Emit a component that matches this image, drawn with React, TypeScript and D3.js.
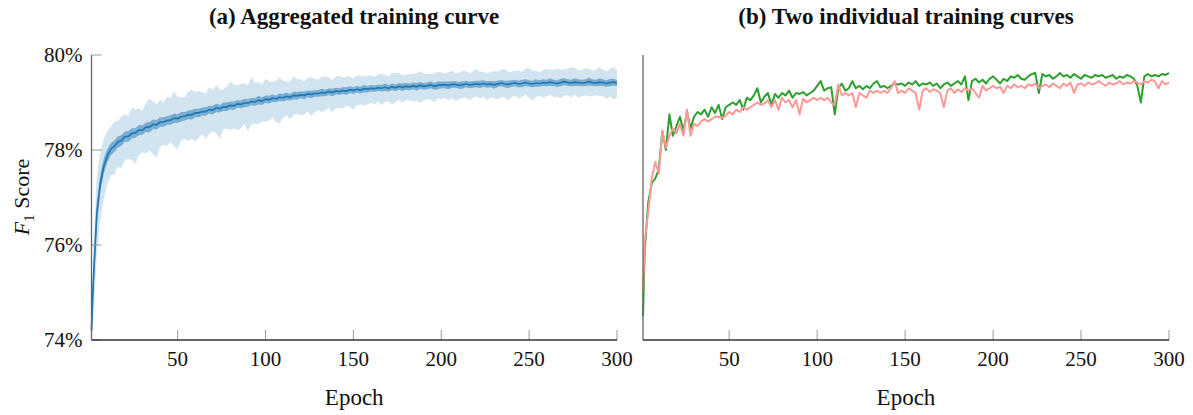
import React from "react";
import * as d3 from "d3";

// x positions: epoch 1, then every second epoch up to 300
const EPOCHS: number[] = [1, ...d3.range(2, 301, 2)];

// (a) aggregated curve: mean F1 (%)
const MEAN = [74.20,
  75.20, 76.65, 77.30, 77.66, 77.88, 78.02, 78.08, 78.17, 78.20, 78.28,
  78.29, 78.35, 78.36, 78.42, 78.42, 78.48, 78.48, 78.54, 78.53, 78.59,
  78.59, 78.62, 78.63, 78.67, 78.66, 78.70, 78.71, 78.74, 78.74, 78.78,
  78.78, 78.81, 78.81, 78.85, 78.84, 78.89, 78.87, 78.91, 78.91, 78.94,
  78.93, 78.97, 78.96, 78.99, 78.99, 79.02, 79.01, 79.05, 79.03, 79.07,
  79.06, 79.09, 79.08, 79.11, 79.10, 79.13, 79.11, 79.15, 79.14, 79.16,
  79.15, 79.18, 79.17, 79.19, 79.19, 79.21, 79.20, 79.23, 79.21, 79.24,
  79.23, 79.25, 79.24, 79.27, 79.25, 79.28, 79.26, 79.29, 79.28, 79.30,
  79.29, 79.31, 79.30, 79.32, 79.30, 79.33, 79.31, 79.34, 79.32, 79.34,
  79.33, 79.35, 79.33, 79.36, 79.34, 79.35, 79.37, 79.34, 79.36, 79.37,
  79.37, 79.36, 79.38, 79.38, 79.36, 79.37, 79.39, 79.37, 79.38, 79.39,
  79.38, 79.40, 79.38, 79.39, 79.37, 79.39, 79.41, 79.39, 79.38, 79.40,
  79.41, 79.39, 79.40, 79.42, 79.40, 79.39, 79.41, 79.40, 79.42, 79.41,
  79.43, 79.41, 79.40, 79.42, 79.44, 79.42, 79.41, 79.43, 79.42, 79.41,
  79.42, 79.44, 79.42, 79.41, 79.43, 79.42, 79.40, 79.42, 79.43, 79.41];

// half-width of the inner (dark) band, percentage points
const DARK_SPREAD = [0.15,
  0.25, 0.22, 0.18, 0.16, 0.14, 0.13, 0.12, 0.12, 0.11, 0.11,
  0.11, 0.11, 0.10, 0.11, 0.10, 0.10, 0.11, 0.10, 0.10, 0.10,
  0.10, 0.09, 0.10, 0.10, 0.09, 0.10, 0.09, 0.09, 0.10, 0.09,
  0.09, 0.09, 0.09, 0.08, 0.09, 0.09, 0.08, 0.09, 0.09, 0.08,
  0.09, 0.08, 0.08, 0.09, 0.08, 0.08, 0.08, 0.09, 0.08, 0.08,
  0.08, 0.08, 0.07, 0.08, 0.08, 0.08, 0.07, 0.08, 0.08, 0.07,
  0.08, 0.07, 0.08, 0.07, 0.07, 0.08, 0.07, 0.07, 0.08, 0.07,
  0.07, 0.07, 0.08, 0.07, 0.07, 0.07, 0.07, 0.08, 0.07, 0.07,
  0.07, 0.07, 0.07, 0.08, 0.07, 0.07, 0.07, 0.07, 0.08, 0.07,
  0.07, 0.07, 0.08, 0.07, 0.07, 0.07, 0.07, 0.07, 0.08, 0.07,
  0.07, 0.08, 0.07, 0.07, 0.07, 0.08, 0.07, 0.07, 0.07, 0.07,
  0.08, 0.07, 0.07, 0.07, 0.08, 0.07, 0.07, 0.07, 0.08, 0.07,
  0.07, 0.07, 0.08, 0.07, 0.07, 0.07, 0.08, 0.07, 0.07, 0.07,
  0.08, 0.07, 0.07, 0.08, 0.07, 0.07, 0.07, 0.08, 0.07, 0.07,
  0.07, 0.08, 0.07, 0.07, 0.08, 0.07, 0.07, 0.08, 0.07, 0.07];

// outer (light) band: distance above the mean
const LIGHT_UP = [0.25,
  0.70, 0.78, 0.66, 0.58, 0.52, 0.47, 0.52, 0.44, 0.50, 0.47,
  0.43, 0.55, 0.50, 0.46, 0.41, 0.52, 0.60, 0.48, 0.44, 0.47,
  0.42, 0.50, 0.47, 0.58, 0.45, 0.41, 0.40, 0.49, 0.53, 0.44,
  0.46, 0.41, 0.38, 0.47, 0.43, 0.48, 0.40, 0.37, 0.42, 0.50,
  0.45, 0.39, 0.44, 0.41, 0.37, 0.52, 0.40, 0.38, 0.35, 0.43,
  0.39, 0.34, 0.38, 0.42, 0.36, 0.31, 0.33, 0.40, 0.35, 0.33,
  0.30, 0.34, 0.36, 0.31, 0.29, 0.33, 0.35, 0.30, 0.27, 0.31,
  0.33, 0.28, 0.30, 0.29, 0.25, 0.28, 0.31, 0.26, 0.28, 0.27,
  0.25, 0.28, 0.30, 0.27, 0.24, 0.29, 0.31, 0.28, 0.25, 0.24,
  0.27, 0.26, 0.28, 0.30, 0.27, 0.25, 0.23, 0.27, 0.29, 0.26,
  0.25, 0.27, 0.29, 0.24, 0.26, 0.30, 0.27, 0.24, 0.28, 0.31,
  0.27, 0.25, 0.23, 0.26, 0.29, 0.26, 0.28, 0.32, 0.27, 0.25,
  0.26, 0.28, 0.25, 0.29, 0.33, 0.28, 0.26, 0.24, 0.27, 0.29,
  0.26, 0.28, 0.31, 0.27, 0.25, 0.29, 0.33, 0.30, 0.26, 0.28,
  0.30, 0.27, 0.25, 0.28, 0.31, 0.27, 0.26, 0.29, 0.32, 0.28];

// outer (light) band: distance below the mean
const LIGHT_DOWN = [0.20,
  0.80, 0.85, 0.78, 0.68, 0.60, 0.55, 0.60, 0.52, 0.58, 0.50,
  0.48, 0.56, 0.65, 0.52, 0.47, 0.55, 0.50, 0.62, 0.70, 0.52,
  0.48, 0.53, 0.46, 0.58, 0.66, 0.50, 0.47, 0.55, 0.51, 0.60,
  0.52, 0.47, 0.58, 0.50, 0.45, 0.53, 0.64, 0.48, 0.46, 0.52,
  0.47, 0.55, 0.50, 0.44, 0.60, 0.48, 0.45, 0.51, 0.43, 0.47,
  0.44, 0.40, 0.50, 0.55, 0.42, 0.40, 0.46, 0.41, 0.38, 0.44,
  0.40, 0.37, 0.45, 0.39, 0.35, 0.41, 0.37, 0.34, 0.42, 0.36,
  0.34, 0.38, 0.31, 0.36, 0.40, 0.33, 0.30, 0.35, 0.32, 0.30,
  0.33, 0.29, 0.35, 0.31, 0.28, 0.37, 0.30, 0.28, 0.32, 0.29,
  0.28, 0.33, 0.30, 0.36, 0.29, 0.27, 0.31, 0.34, 0.28, 0.30,
  0.27, 0.32, 0.29, 0.35, 0.30, 0.27, 0.29, 0.33, 0.28, 0.26,
  0.30, 0.28, 0.34, 0.29, 0.27, 0.32, 0.30, 0.28, 0.35, 0.29,
  0.27, 0.31, 0.28, 0.26, 0.30, 0.36, 0.29, 0.27, 0.31, 0.28,
  0.26, 0.30, 0.28, 0.33, 0.29, 0.27, 0.30, 0.26, 0.32, 0.28,
  0.27, 0.31, 0.29, 0.26, 0.30, 0.28, 0.33, 0.29, 0.36, 0.30];

// (b) two individual runs
const RUN_GREEN = [74.50,
  75.90, 76.90, 77.30, 77.40, 77.60, 78.40, 78.00, 78.75, 78.30, 78.50,
  78.70, 78.40, 78.80, 78.45, 78.70, 78.80, 78.75, 78.85, 78.70, 78.90,
  78.78, 78.95, 78.65, 78.90, 78.95, 79.00, 78.95, 79.05, 78.85, 79.10,
  79.05, 79.15, 79.30, 79.00, 79.12, 79.20, 78.95, 79.18, 79.10, 79.20,
  79.15, 79.25, 79.10, 79.20, 79.18, 79.22, 79.15, 79.20, 79.25, 79.35,
  79.45, 79.25, 79.30, 79.32, 78.75, 79.30, 79.40, 79.25, 79.30, 79.45,
  79.30, 79.35, 79.28, 79.35, 79.30, 79.40, 79.45, 79.32, 79.35, 79.30,
  79.35, 79.40, 79.38, 79.40, 79.35, 79.42, 79.38, 79.45, 79.35, 79.40,
  79.38, 79.42, 79.35, 79.40, 79.30, 79.38, 79.42, 79.35, 79.40, 79.45,
  79.38, 79.55, 79.05, 79.45, 79.50, 79.42, 79.48, 79.40, 79.50, 79.55,
  79.48, 79.40, 79.50, 79.45, 79.55, 79.52, 79.58, 79.50, 79.48, 79.55,
  79.60, 79.62, 79.20, 79.60, 79.55, 79.58, 79.50, 79.55, 79.62, 79.55,
  79.58, 79.52, 79.60, 79.55, 79.50, 79.58, 79.55, 79.52, 79.58, 79.55,
  79.58, 79.52, 79.55, 79.58, 79.50, 79.55, 79.52, 79.58, 79.55, 79.50,
  79.35, 79.00, 79.55, 79.60, 79.55, 79.58, 79.55, 79.60, 79.58, 79.62];

const RUN_PINK = [75.00,
  76.10, 76.70, 77.40, 77.75, 77.50, 78.40, 78.05, 78.30, 78.45, 78.35,
  78.55, 78.30, 78.85, 78.30, 78.55, 78.50, 78.60, 78.65, 78.60, 78.65,
  78.70, 78.70, 78.68, 78.72, 78.80, 78.75, 78.85, 78.80, 78.90, 78.85,
  78.90, 78.95, 79.00, 78.95, 78.98, 79.05, 78.90, 79.05, 78.85, 79.10,
  79.00, 79.05, 78.90, 79.05, 78.75, 79.08, 79.00, 79.05, 79.10, 79.05,
  79.10, 79.05, 79.10, 79.00, 78.95, 79.38, 79.15, 79.20, 79.15, 79.20,
  78.90, 79.20, 79.15, 79.10, 79.25, 79.20, 79.25, 79.20, 79.25, 79.20,
  79.30, 79.45, 79.20, 79.25, 79.20, 79.30, 79.25, 79.20, 78.85, 79.25,
  79.30, 79.22, 79.28, 79.25, 79.20, 78.90, 79.25, 79.30, 79.20, 79.28,
  79.22, 79.30, 79.25, 79.30, 79.20, 79.10, 79.35, 79.25, 79.30, 79.35,
  79.30, 79.33, 79.20, 79.35, 79.30, 79.38, 79.32, 79.35, 79.30, 79.38,
  79.35, 79.40, 79.30, 79.35, 79.38, 79.32, 79.40, 79.35, 79.30, 79.40,
  79.35, 79.42, 79.20, 79.38, 79.40, 79.35, 79.42, 79.38, 79.40, 79.45,
  79.40, 79.35, 79.42, 79.38, 79.40, 79.45, 79.38, 79.42, 79.40, 79.45,
  79.42, 79.38, 79.45, 79.42, 79.48, 79.45, 79.30, 79.45, 79.38, 79.42];

const X_TICKS = [50, 100, 150, 200, 250, 300];
const Y_TICKS = [74, 76, 78, 80];
const TITLES = ["(a) Aggregated training curve", "(b) Two individual training curves"];

const FONT = "'Liberation Serif', 'DejaVu Serif', serif";
const TOP = 55;
const BOTTOM = 340;

function Axes({ x, y, showY }: { x: d3.ScaleLinear<number, number>; y: d3.ScaleLinear<number, number>; showY: boolean }) {
  const [x0, x1] = x.range();
  const cx = (x0 + x1) / 2;
  return (
    <g fontFamily={FONT}>
      {X_TICKS.map((t) => (
        <g key={t}>
          <line x1={x(t)} x2={x(t)} y1={BOTTOM} y2={BOTTOM - 10} stroke="#999" strokeWidth={1} />
          <text x={x(t)} y={366} textAnchor="middle" fontSize={21} fill="#111">{t}</text>
        </g>
      ))}
      {showY &&
        Y_TICKS.map((t) => (
          <g key={t}>
            <line x1={x0} x2={x0 + 10} y1={y(t)} y2={y(t)} stroke="#999" strokeWidth={1} />
            <text x={x0 - 9} y={y(t)} dy="0.35em" textAnchor="end" fontSize={21} fill="#111">{t}%</text>
          </g>
        ))}
      <line x1={x0} x2={x0} y1={TOP} y2={BOTTOM} stroke="#666" strokeWidth={1.3} />
      <line x1={x0} x2={x1} y1={BOTTOM} y2={BOTTOM} stroke="#333" strokeWidth={1.3} />
      <text x={cx} y={405} textAnchor="middle" fontSize={23} fill="#111">Epoch</text>
    </g>
  );
}

export default function App() {
  const y = d3.scaleLinear().domain([74, 80]).range([BOTTOM, TOP]);
  const xa = d3.scaleLinear().domain([1, 300]).range([91.5, 617]);
  const xb = d3.scaleLinear().domain([1, 300]).range([643, 1169]);

  const n = Math.min(EPOCHS.length, MEAN.length, DARK_SPREAD.length, LIGHT_UP.length, LIGHT_DOWN.length);
  const agg = d3.range(n).map((i) => ({
    e: EPOCHS[i],
    m: MEAN[i],
    dlo: MEAN[i] - DARK_SPREAD[i],
    dhi: MEAN[i] + DARK_SPREAD[i],
    llo: MEAN[i] - LIGHT_DOWN[i],
    lhi: MEAN[i] + LIGHT_UP[i],
  }));

  const lightArea = d3.area<any>().x((d) => xa(d.e)).y0((d) => y(d.llo)).y1((d) => y(d.lhi));
  const darkArea = d3.area<any>().x((d) => xa(d.e)).y0((d) => y(d.dlo)).y1((d) => y(d.dhi));
  const meanLine = d3.line<any>().x((d) => xa(d.e)).y((d) => y(d.m));

  const runLine = (vals: number[]) =>
    d3.line<number>().x((_, i) => xb(EPOCHS[i])).y((v) => y(v))(vals.slice(0, EPOCHS.length)) || "";

  return (
    <svg width={1193} height={415} style={{ position: "absolute", left: 0, top: 0, background: "#fff" }}>
      <rect width={1193} height={415} fill="#fff" />
      <text x={354} y={24} textAnchor="middle" fontFamily={FONT} fontWeight="bold" fontSize={23} fill="#111">{TITLES[0]}</text>
      <text x={906} y={24} textAnchor="middle" fontFamily={FONT} fontWeight="bold" fontSize={23} fill="#111">{TITLES[1]}</text>

      <text transform="translate(29,197) rotate(-90)" textAnchor="middle" fontFamily={FONT} fontSize={22} fill="#111">
        <tspan fontStyle="italic">F</tspan>
        <tspan fontSize={15} dy={5}>1</tspan>
        <tspan dy={-5}> Score</tspan>
      </text>

      <path d={lightArea(agg) || ""} fill="#1f77b4" fillOpacity={0.2} stroke="none" />
      <path d={darkArea(agg) || ""} fill="#1f77b4" fillOpacity={0.5} stroke="none" />
      <path d={meanLine(agg) || ""} fill="none" stroke="#1f77b4" strokeWidth={1.7} strokeLinejoin="round" />
      <Axes x={xa} y={y} showY={true} />

      <path d={runLine(RUN_GREEN)} fill="none" stroke="#2ca02c" strokeWidth={2} strokeLinejoin="round" />
      <path d={runLine(RUN_PINK)} fill="none" stroke="#ff9896" strokeWidth={2} strokeLinejoin="round" />
      <Axes x={xb} y={y} showY={false} />
    </svg>
  );
}
